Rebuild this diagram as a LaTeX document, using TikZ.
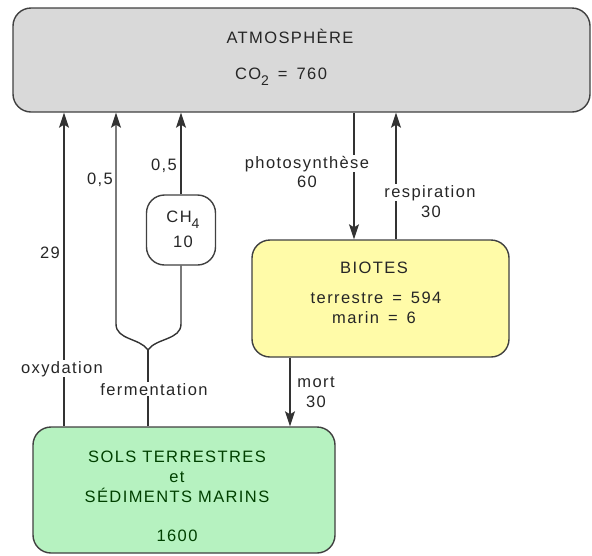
\documentclass[tikz,border=0pt]{standalone}
\usepackage{fontspec}
\setmainfont{Liberation Sans}[LetterSpace=8.5]
\usepackage{tikz}
\usetikzlibrary{arrows.meta}

\definecolor{atmgray}{HTML}{D9D9D9}
\definecolor{bioyellow}{HTML}{FFFBA8}
\definecolor{solgreen}{HTML}{B6F2C0}
\definecolor{linegray}{HTML}{333333}
\newcommand{\lowidx}[1]{\raisebox{-0.7ex}{\fontsize{14}{14}\selectfont #1}}
\newcommand{\eqsp}{\hspace{9pt}=\hspace{9pt}}

\begin{document}
\begin{tikzpicture}[x=1pt,y=-1pt,font=\fontsize{16.5}{20}\selectfont,
  bx/.style={draw=black!75,line width=1.4pt,rounded corners=18pt,inner sep=0pt},
  flow/.style={draw=linegray,line width=1.4pt},
  arr/.style={flow,-{Stealth[length=15pt,width=10pt,inset=3pt]}},
  txt/.style={anchor=base,inner sep=1pt,text=black!85}]
  \useasboundingbox (0,0) rectangle (592,555);
  % reservoirs
  \node[bx,fill=atmgray,minimum width=577pt,minimum height=104pt] (atm) at (301.5,60) {};
  \node[bx,fill=bioyellow,minimum width=257pt,minimum height=117pt] (bio) at (380.5,298.5) {};
  \node[bx,fill=solgreen,minimum width=302pt,minimum height=126pt] (sols) at (184,490) {};
  \node[bx,fill=white,minimum width=69pt,minimum height=70pt] (ch4) at (181,230) {};

  \node[txt] (atmA) at (290,43) {ATMOSPHÈRE};
  \node[txt] (atmB) at (281,79) {CO\lowidx{2}\eqsp760};
  \node[txt] (bioA) at (374,273) {BIOTES};
  \node[txt] (bioB) at (376,303) {terrestre\eqsp594};
  \node[txt] (bioC) at (374,323) {marin\eqsp6};
  \foreach \n/\y/\t in {solA/462/SOLS TERRESTRES,solB/482/et,solC/502/SÉDIMENTS MARINS,solD/541/1600}
    \node[txt,text=green!25!black] (\n) at (177,\y) {\t};
  \node[txt] (ch4A) at (183,222) {CH\lowidx{4}};
  \node[txt] (ch4B) at (183,247) {10};

  % fluxes
  \foreach \n/\x in {ox/64,fl/116,fe/148,ph/354,re/396,mo/290}
    \coordinate (\n) at (\x,0);
  \coordinate (fork) at (148,350);
  \draw[arr] (sols.north -| ox) -- (atm.south -| ox);
  \draw[flow] (sols.north -| fe) -- (fork);
  \draw[arr] (fork) .. controls +(-8,-12) and +(0,16) .. (116,324) -- (atm.south -| fl);
  \draw[flow] (fork) .. controls +(8,-12) and +(0,16) .. (181,324) -- (ch4.south);
  \draw[arr] (ch4.north) -- (atm.south -| ch4.north);
  \draw[arr] (atm.south -| ph) -- (bio.north -| ph);
  \draw[arr] (bio.north -| re) -- (atm.south -| re);
  \draw[arr] (bio.south -| mo) -- (sols.north -| mo);

  % flux labels
  \foreach \n/\x/\y/\t in {l29/50/258/29,lfa/100/184/{0,5},lfb/164/170/{0,5},
      lox/62/373/oxydation,lfe/154/395/fermentation,
      lph/307/168/photosynthèse,lphv/307/187/60,
      lre/430/197/respiration,lrev/431/217/30,
      lmo/316/387/mort,lmov/316/407/30}
    \node[txt,fill=white] (\n) at (\x,\y) {\t};
\end{tikzpicture}
\end{document}
